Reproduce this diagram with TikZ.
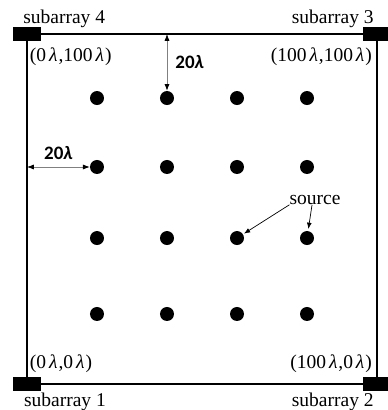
\documentclass[tikz,border=0pt]{standalone}
\usepackage{fontspec}
\setmainfont{Liberation Serif}
\newfontfamily\dimfont{Carlito}
\usetikzlibrary{arrows.meta, positioning}
\newcommand{\lam}{\hspace{0.15em}\textit{λ}\hspace{0.05em}}

\begin{document}
\begin{tikzpicture}[
    x=3.5pt, y=3.5pt,
    font=\fontsize{19.5}{22}\selectfont,
    >={Latex[length=2.2mm, width=1.7mm]},
    dot/.style={circle, fill=black, inner sep=0pt, minimum size=14pt},
    sub/.style={fill=black, inner sep=0pt, minimum width=28pt, minimum height=14pt},
    lab/.style={inner sep=0pt},
    dimlab/.style={font=\fontsize{19}{22}\selectfont\dimfont\bfseries, inner sep=0pt},
    dim/.style={{Latex[length=2.4mm, width=1.8mm, color=black]}-{Latex[length=2.4mm, width=1.8mm, color=black]}, draw=black!50, line width=0.8pt},
    ptr/.style={->, draw=black, line width=0.7pt},
  ]
  \useasboundingbox (-7.714,-7.429) rectangle (103.143,109.714);
  % ---- aperture
  \coordinate (c1) at (0,0);
  \coordinate (c2) at (100,0);
  \coordinate (c3) at (100,100);
  \coordinate (c4) at (0,100);
  \draw[line width=1.1pt] (c1) -- (c2) -- (c3) -- (c4) -- cycle;
  % ---- subarrays
  \foreach \k in {1,...,4}
    \node[sub] (sa\k) at (c\k) {};
  \node[lab, anchor=base west] (sl4) at (-1.1,103.1) {subarray 4};
  \node[lab, anchor=base east] (sl3) at (99.1,103.1) {subarray 3};
  \node[lab, anchor=base west] (sl1) at (-0.9,-6.4) {subarray 1};
  \node[lab, anchor=base east] (sl2) at (99.1,-6.4) {subarray 2};
  % ---- corner coordinates
  \node[lab, anchor=base west] (p4) at (0.8,92) {(0\lam,100\lam)};
  \node[lab, anchor=base east] (p3) at (98.6,92) {(100\lam,100\lam)};
  \node[lab, anchor=base west] (p1) at (0.8,4.3) {(0\lam,0\lam)};
  \node[lab, anchor=base east] (p2) at (98.6,4.3) {(100\lam,0\lam)};
  % ---- sources
  \foreach \i/\x in {1/20,2/40,3/60,4/80}
    \foreach \j/\y in {1/20,2/41.7,3/62,4/81.7}
      \node[dot] (d\i\j) at (\x,\y) {};
  \node[lab] (srclab) at (82.3,52.6) {source};
  \draw[ptr, shorten >=1pt] (srclab.south west) -- (d32);
  \draw[ptr, shorten >=2pt] ([xshift=-3pt]srclab.south) -- (d42);
  % ---- spacing
  \coordinate (top) at (40,100);
  \coordinate (left) at (0,62);
  \draw[dim] (top) -- (d24.north) node[midway, dimlab, right=8pt] {20\textit{λ}};
  \draw[dim] (left) -- (d13.west) node[midway, dimlab, above=7pt] {20\textit{λ}};
\end{tikzpicture}
\end{document}
